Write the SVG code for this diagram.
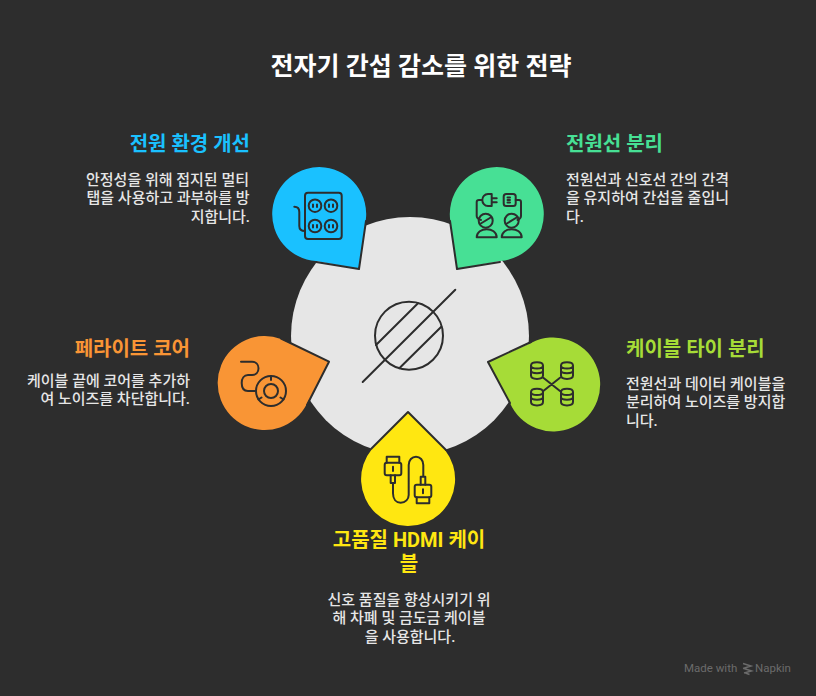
<svg xmlns="http://www.w3.org/2000/svg" width="816" height="696" viewBox="0 0 816 696">
<style>
text{font-family:"Roboto","Noto Sans CJK KR",sans-serif}
.t{font-size:25px;font-weight:700;fill:#fff;text-anchor:middle}
.h{font-size:20px;font-weight:700}
.b{font-size:15px;font-weight:500;fill:#e6e6e6}
.e{text-anchor:end}.m{text-anchor:middle}
.edge{fill:none;stroke:#2d2d2d;stroke-width:2;stroke-linejoin:round;stroke-linecap:round}
.i{fill:none;stroke:#2d2d2d;stroke-width:2;stroke-linecap:round;stroke-linejoin:round}
</style>
<rect width="816" height="696" fill="#2d2d2d"/>
<text class="t" x="421" y="74.500">전자기 간섭 감소를 위한 전략</text>
<g id="center">
<circle cx="410" cy="336" r="119" fill="#e6e6e6"/>
<g class="i"><circle cx="409" cy="335.700" r="34"/><path d="M455.300 289.700L362.700 382M418 303.300L376 345M441.300 326.700L399.300 368.300"/></g>
</g>
<g id="node-power-strip">
<path fill="#1ac1ff" d="M359 269L365.700 221A47 47 0 1 0 316 261Z"/>
<path class="edge" d="M366 221L359 269L316 262"/>
<g class="i"><rect x="305" y="192.700" width="36.700" height="46.300" rx="3"/><circle cx="315" cy="205.700" r="6.300"/><circle cx="331" cy="205.700" r="6.300"/><circle cx="315" cy="226" r="6.300"/><circle cx="331" cy="226" r="6.300"/>
<path d="M313 204.500v2.500M317 204.500v2.500M329 204.500v2.500M333 204.500v2.500M313 225v2.500M317 225v2.500M329 225v2.500M333 225v2.500M294.300 206.700C298 206.700 299.300 208.500 299.300 212V226C299.300 229.500 301 231 305 231"/></g>
<text class="h e" fill="#1ac1ff" x="250" y="151">전원 환경 개선</text>
<text class="b e"><tspan x="249" y="184.500">안정성을 위해 접지된 멀티</tspan><tspan x="249.500" y="203.250">탭을 사용하고 과부하를 방</tspan><tspan x="250" y="222">지합니다.</tspan></text>
</g>
<g id="node-separation">
<path fill="#47e095" d="M457 269L450.300 221A47 47 0 1 1 500 261Z"/>
<path class="edge" d="M450 221L457 269L500 262"/>
<g class="i"><path d="M491.700 194H488C484.500 194 482.300 197 482.300 200S484.500 206 488 206H491.700ZM491.700 198.300H496.700M491.700 202.300H496.700M482.300 200H479C477.500 200 476.700 201 476.700 202V216C476.700 218 478 219 481 220"/><rect x="503.700" y="194" width="12" height="12" rx="2.500"/><path d="M507.500 197.500h2.500M507.500 200h2.500M507.500 202.500h2.500M515.700 200H519C520.500 200 521 201 521 202V216C521 218 520 219 517.500 220"/>
<circle cx="485.700" cy="220.700" r="7"/><circle cx="511.700" cy="220.700" r="7"/><path d="M480 224L491.500 217M506 224L517.500 217M476.700 237.300C476.700 226.500 496.700 226.500 496.700 237.300ZM501.700 237.300C501.700 226.500 521.700 226.500 521.700 237.300Z"/></g>
<text class="h" fill="#47e095" x="566" y="151">전원선 분리</text>
<text class="b"><tspan x="566" y="184.500">전원선과 신호선 간의 간격</tspan><tspan x="566" y="203.250">을 유지하여 간섭을 줄입니</tspan><tspan x="566" y="222">다.</tspan></text>
</g>
<g id="node-tie">
<path fill="#a6dc37" d="M488 362L532 342.500A47 47 0 1 1 510 403Z"/>
<path class="edge" d="M531 342L488 362L510 403"/>
<g class="i"><path d="M531 365.500C531 361 543 361 543 365.500V375.500C543 380 531 380 531 375.500ZM531 365.500C531 369.500 543 369.500 543 365.500M531 370.500C531 374 543 374 543 370.500M561 365.500C561 361 573 361 573 365.500V375.500C573 380 561 380 561 375.500ZM561 365.500C561 369.500 573 369.500 573 365.500M561 370.500C561 374 573 374 573 370.500M531 392C531 387.500 543 387.500 543 392V402C543 406.500 531 406.500 531 402ZM531 392C531 396 543 396 543 392M531 397C531 400.500 543 400.500 543 397M561 392C561 387.500 573 387.500 573 392V402C573 406.500 561 406.500 561 402ZM561 392C561 396 573 396 573 392M561 397C561 400.500 573 400.500 573 397M543.300 377.700L560 391M560 377.700L543.300 391"/></g>
<text class="h" fill="#a6dc37" x="626" y="355.500">케이블 타이 분리</text>
<text class="b"><tspan x="626" y="388.500">전원선과 데이터 케이블을</tspan><tspan x="626" y="407.250">분리하여 노이즈를 방지합</tspan><tspan x="626" y="426">니다.</tspan></text>
</g>
<g id="node-hdmi">
<path fill="#ffe711" d="M408 412L372 449A47 47 0 1 0 445 450Z"/>
<path class="edge" d="M371.500 448.500L408 412L446 450"/>
<g class="i"><path d="M386.700 462.700V456.700H399.300V462.700M390.700 475.300V483H395V475.300M393 466.700V471"/><rect x="384.700" y="462.700" width="16.600" height="12.600" rx="2"/><path d="M393 483V493.300C393 499 396 502.700 400.700 502.700C405.500 502.700 408.700 499 408.700 495V465C408.700 460 412 456.700 416 456.700C420 456.700 423.300 460 423.300 465V476.700M420.700 484.700V476.700H425.300V484.700M416.700 497.300V503.300H429.300V497.300M423 489.300V493.300"/><rect x="414.700" y="484.700" width="16.600" height="12.600" rx="2"/></g>
<text class="h m" fill="#ffe711"><tspan x="409" y="547">고품질 HDMI 케이</tspan><tspan x="409" y="571">블</tspan></text>
<text class="b m"><tspan x="409" y="604.500">신호 품질을 향상시키기 위</tspan><tspan x="409" y="623.250">해 차폐 및 금도금 케이블</tspan><tspan x="410" y="642">을 사용합니다.</tspan></text>
</g>
<g id="node-ferrite">
<path fill="#f99535" d="M329 361.700L281 339A47 47 0 1 0 306.500 404.500Z"/>
<path class="edge" d="M281 338.500L329 361.700L307 405"/>
<g class="i"><circle cx="271" cy="391" r="15"/><circle cx="271" cy="391" r="7"/><path d="M271 376V380M258.500 399.500L261.500 397.500M283.500 399.500L280.500 397.500M241 361.700H252C256 361.700 258.500 364.500 258.500 368.300C258.500 372 256 375 252 375H248C244 375 241.700 378.500 241.700 383C241.700 388 244 391 248 391H256"/></g>
<text class="h e" fill="#f99535" x="190" y="355.500">페라이트 코어</text>
<text class="b e"><tspan x="190" y="385.500">케이블 끝에 코어를 추가하</tspan><tspan x="190" y="404">여 노이즈를 차단합니다.</tspan></text>
</g>
<g id="watermark">
<text x="684" y="672" font-size="11.500" font-weight="400" fill="#6b6b6b">Made with</text>
<path d="M743 663.500L751 666L743 668.500M744 668.500L751.500 671L744 673M745.500 673L749.500 674.500" fill="none" stroke="#6b6b6b" stroke-width="1.500"/>
<text x="755" y="672" font-size="11.500" font-weight="400" fill="#6b6b6b">Napkin</text>
</g>
</svg>
